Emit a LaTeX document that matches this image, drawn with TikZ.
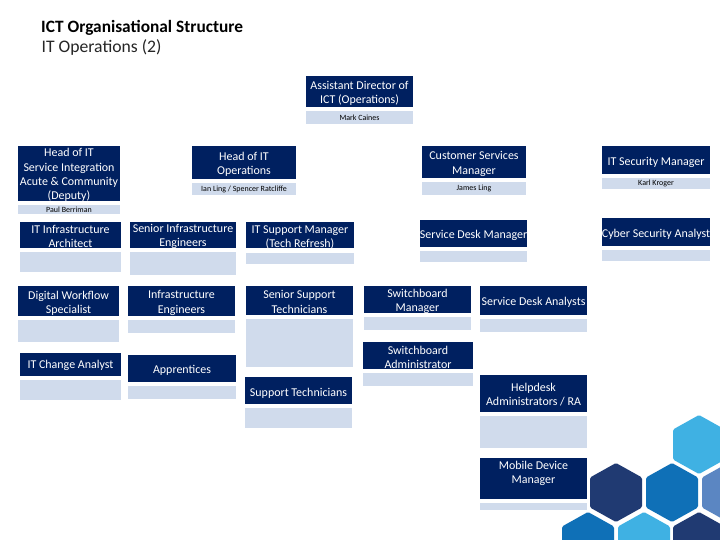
\documentclass[tikz,border=0pt]{standalone}
\usepackage{fontspec}
\setmainfont{Carlito}
\definecolor{navy}{HTML}{002060}
\definecolor{pale}{HTML}{D0DBEC}
\definecolor{hexdark}{HTML}{203A72}
\definecolor{hexblue}{HTML}{0F70B7}
\definecolor{hexlight}{HTML}{3FB1E3}
\definecolor{hexmid}{HTML}{5B86C2}
\tikzset{
  darkbox/.style={fill=navy,draw=none,inner sep=0pt,outer sep=0pt,anchor=north west},
  palebox/.style={fill=pale,draw=none,inner sep=0pt,outer sep=0pt,anchor=north west},
  rolelabel/.style={text=white,font=\fontsize{12}{14.3}\selectfont,align=center,inner sep=0pt,yshift=-1bp},
  namelabel/.style={text=black,font=\fontsize{8}{9}\selectfont,inner sep=0pt},
}
% name, x0,y0,x1,y1 (dark), text centre y, text, pale y0,y1
\newcommand{\orgbox}[9]{%
  \pgfmathsetmacro{\bw}{#4-#2}\pgfmathsetmacro{\bh}{#5-#3}
  \pgfmathsetmacro{\pl}{#9-#8}
  \node[darkbox,minimum width=\bw bp,minimum height=\bh bp] (#1) at (#2,#3) {};
  \node[palebox,minimum width=\bw bp,minimum height=\pl bp] (#1p) at (#2,#8) {};
  \node[rolelabel] (#1t) at ({(#2+#4)/2},#6) {#7};
}
\newcommand{\hexat}[3]{%
  \fill[#3,rounded corners=1.5bp] (#1,#2-29.5) -- (#1+26,#2-15) -- (#1+26,#2+15) -- (#1,#2+29.5) -- (#1-26,#2+15) -- (#1-26,#2-15) -- cycle;
}
\begin{document}
\begin{tikzpicture}[x=1bp,y=-1bp]
\useasboundingbox (0,0) rectangle (720,540);
\fill[white] (0,0) rectangle (720,540);
\node[anchor=west,inner sep=0pt,font=\fontsize{17.4}{20}\selectfont\bfseries] (title) at (41,28) {ICT Organisational Structure};
\node[anchor=west,inner sep=0pt,font=\fontsize{17.7}{20}\selectfont,text=black!85] (subtitle) at (41.5,47) {IT Operations (2)};

\orgbox{asst}{306}{76}{413}{107}{92}{Assistant Director of\\ICT (Operations)}{111}{124}
\node[namelabel] (asstn) at (asstp) {Mark Caines};
\orgbox{deputy}{18}{146}{120}{201}{174}{Head of IT\\Service Integration\\Acute \& Community\\(Deputy)}{205}{214}
\node[namelabel] (deputyn) at (deputyp) {Paul Berriman};
\orgbox{ops}{192}{146}{296}{179}{163}{Head of IT\\Operations}{183}{195}
\node[namelabel] (opsn) at (opsp) {Ian Ling / Spencer Ratcliffe};
\orgbox{cust}{422}{146}{526}{178}{163}{Customer Services\\Manager}{182}{195}
\node[namelabel] (custn) at (custp) {James Ling};
\orgbox{sec}{602}{146}{710}{174}{161}{IT Security Manager}{178}{189}
\node[namelabel] (secn) at (secp) {Karl Kroger};

\orgbox{arch}{20}{222}{121}{248}{235.5}{IT Infrastructure\\Architect}{252}{272}
\orgbox{seninf}{130}{222}{236}{248}{235.5}{Senior Infrastructure\\Engineers}{252}{275}
\orgbox{tech}{246}{222}{354}{248}{236.5}{IT Support Manager\\(Tech Refresh)}{253}{264}
\orgbox{sdm}{420}{220}{527}{247}{234}{Service Desk Manager}{251}{262}
\orgbox{cyber}{602}{218}{710}{246}{233}{Cyber Security Analyst}{250}{261}

\orgbox{digital}{18}{286}{119}{316}{302}{Digital Workflow\\Specialist}{320}{342}
\orgbox{infeng}{128}{286}{235}{316}{302}{Infrastructure\\Engineers}{320}{333}
\orgbox{sensup}{246}{286}{353}{315}{301}{Senior Support\\Technicians}{319}{367}
\orgbox{swm}{364}{286}{471}{313}{300}{Switchboard\\Manager}{317}{330}
\orgbox{sda}{480}{286}{587}{315}{301.5}{Service Desk Analysts}{319}{332}

\orgbox{swa}{363}{342}{473}{369}{356.5}{Switchboard\\Administrator}{373}{386}
\orgbox{change}{20}{353}{121}{376}{364.5}{IT Change Analyst}{380}{400}
\orgbox{appr}{128}{355}{236}{382}{369}{Apprentices}{386}{399}
\orgbox{suptech}{245}{377}{352}{404}{392}{Support Technicians}{408}{428}
\orgbox{help}{480}{375}{587}{412}{393.5}{Helpdesk\\Administrators / RA}{416}{448}
\orgbox{mobile}{480}{458}{587}{499}{472.5}{Mobile Device\\Manager}{503}{510}

\begin{scope}
\clip (0,0) rectangle (720,540);
\hexat{699}{444.5}{hexlight}
\hexat{616}{492.5}{hexdark}
\hexat{672}{492.5}{hexblue}
\hexat{728}{492.5}{hexmid}
\hexat{588}{541.5}{hexblue}
\hexat{644}{541.5}{hexlight}
\hexat{699}{541.5}{hexdark}
\end{scope}
\end{tikzpicture}
\end{document}
